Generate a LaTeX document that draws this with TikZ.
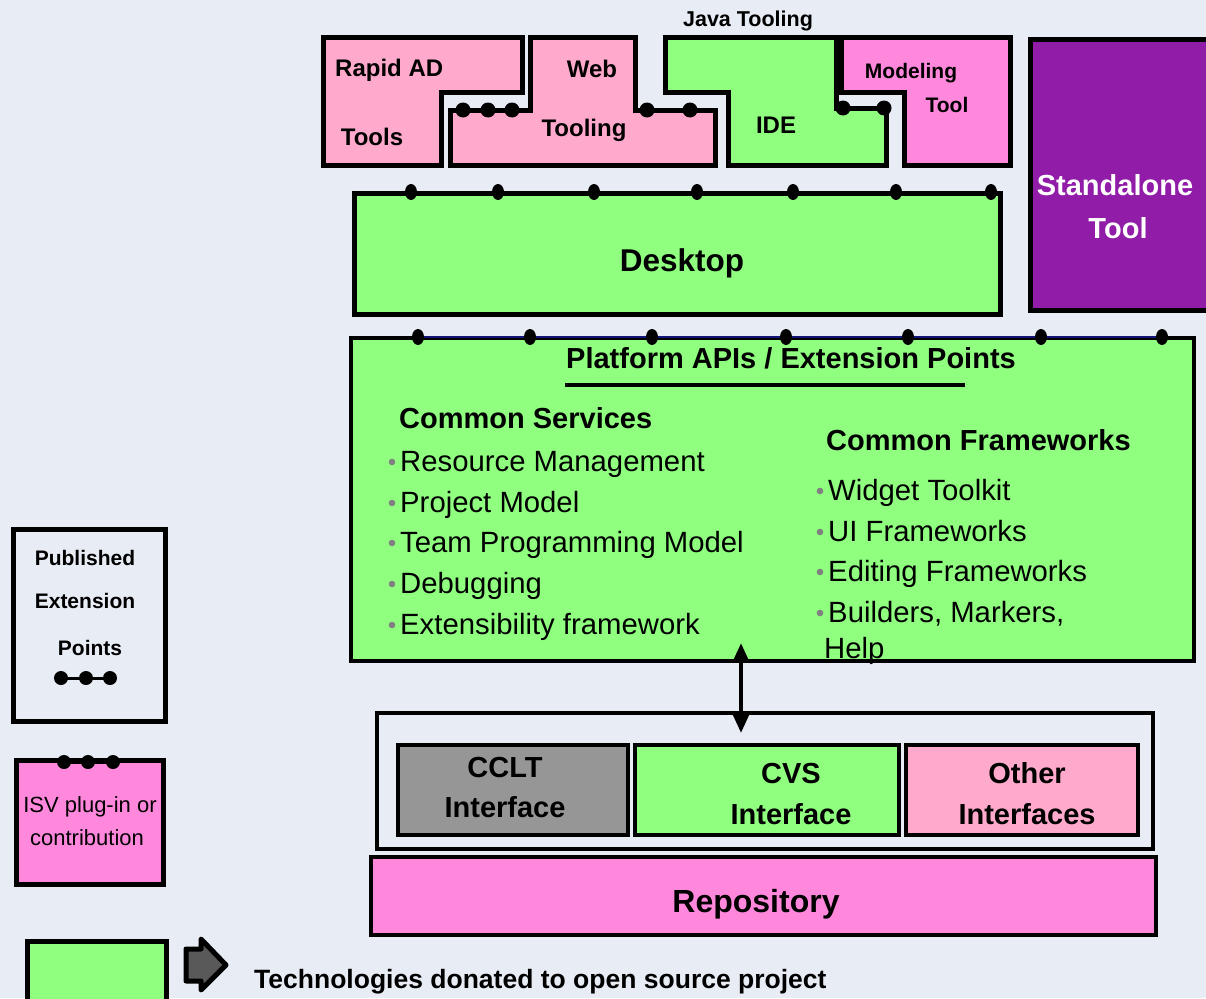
\documentclass[tikz,border=0pt]{standalone}
\usepackage{fontspec}
\setmainfont{Liberation Sans}
\usetikzlibrary{arrows.meta}
\definecolor{bg}{RGB}{232,236,244}
\definecolor{grn}{RGB}{144,255,128}
\definecolor{lpink}{RGB}{255,170,204}
\definecolor{mpink}{RGB}{255,136,221}
\definecolor{purp}{RGB}{144,28,168}
\definecolor{cgray}{RGB}{150,150,150}
\definecolor{navyline}{RGB}{20,20,120}
\definecolor{bulgray}{RGB}{128,128,128}
\begin{document}
\begin{tikzpicture}[x=1pt,y=-1pt,
  outl/.style={draw=black, line width=5pt, line join=miter},
  rbox/.style={draw=black, line width=#1, inner sep=0pt, outer sep=0pt, anchor=north west},
  rbox/.default=5pt,
  lbl/.style={inner sep=0pt, anchor=mid, yshift=-0.26*#1pt, font=\bfseries\fontsize{#1}{#1}\selectfont},
  lblw/.style={inner sep=0pt, anchor=mid west, yshift=-0.26*#1pt, font=\bfseries\fontsize{#1}{#1}\selectfont},
  item/.style={inner sep=0pt, anchor=mid west, yshift=-7.6pt, font=\fontsize{29.3}{29.3}\selectfont},
  plain/.style={inner sep=0pt, anchor=mid, yshift=-0.26*#1pt, font=\fontsize{#1}{#1}\selectfont},
  epdot/.style={fill=black},
  bul/.style={fill=bulgray}]
\useasboundingbox (0,0) rectangle (1206,998);
\fill[bg] (0,0) rectangle (1206,998);

% ---- top tools ----
\draw[outl, fill=lpink] (323,38) -- (522,38) -- (522,92) -- (441,92) -- (441,165) -- (323,165) -- cycle;
\draw[outl, fill=lpink] (530,38) -- (635,38) -- (635,110) -- (715,110) -- (715,165) -- (450,165) -- (450,110) -- (530,110) -- cycle;
\draw[outl, fill=grn] (665,38) -- (836,38) -- (836,108) -- (886,108) -- (886,165) -- (728,165) -- (728,92) -- (665,92) -- cycle;
\draw[outl, fill=mpink] (841,38) -- (1010,38) -- (1010,165) -- (904,165) -- (904,92) -- (841,92) -- cycle;
\foreach \x in {463,488,512,647,690} \fill[epdot] (\x,110) circle (7.5pt);
\foreach \x in {843,884} \fill[epdot] (\x,108) circle (7.5pt);

\node[lbl=21.5] (java) at (748,18) {Java Tooling};
\node[lblw=24] (rapid) at (335,68) {Rapid AD};
\node[lbl=24] (tools) at (372,137) {Tools};
\node[lbl=24] (web) at (592,69) {Web};
\node[lbl=24] (tooling) at (584,128) {Tooling};
\node[lbl=24] (ide) at (776,125) {IDE};
\node[lbl=21] (modeling) at (911,70) {Modeling};
\node[lbl=21] (mtool) at (947,104) {Tool};

% ---- standalone ----
\node[rbox, fill=purp, minimum width=190pt, minimum height=270pt] (stand) at (1030,40) {};
\node[lbl=29, text=white] (standt1) at (1115,185) {Standalone};
\node[lbl=29, text=white] (standt2) at (1118,228) {Tool};

% ---- desktop ----
\node[rbox, fill=grn, minimum width=646pt, minimum height=121pt] (desk) at (354,193) {};
\node[lbl=31.5] (deskt) at (682,261) {Desktop};
\foreach \x in {411,498,594,697,793,896,991} \fill[epdot] (\x,192) ellipse [x radius=6pt, y radius=8pt];

% ---- platform ----
\node[rbox=4.5pt, fill=grn, minimum width=843pt, minimum height=323pt] (plat) at (351,338) {};
\draw[navyline, line width=2pt] (418,337) -- (1162,337);
\foreach \x in {418,530,652,786,908,1041,1162} \fill[epdot] (\x,337) ellipse [x radius=6pt, y radius=8pt];
\node[lbl=29] (platt) at (791,358) {Platform APIs / Extension Points};
\draw[line width=4pt] (565,385) -- (965,385);

\node[lblw=29] (cs) at (399,418) {Common Services};
\foreach \y/\t in {461/Resource Management,502/Project Model,542/Team Programming Model,583/Debugging,624/Extensibility framework}{
  \fill[bul] (392,\y+1) circle (3.3pt);
  \node[item] at (400,\y) {\t};
}
\node[lblw=29] (cf) at (826,440) {Common Frameworks};
\foreach \y/\t in {490/Widget Toolkit,531/UI Frameworks,571/Editing Frameworks,612/{Builders, Markers,}}{
  \fill[bul] (820,\y+1) circle (3.3pt);
  \node[item] at (828,\y) {\t};
}
\node[item] (help) at (824,648) {Help};

% ---- interfaces ----
\node[rbox=4pt, minimum width=776pt, minimum height=136pt] (ifbox) at (377,713) {};
\node[rbox=4.5pt, fill=cgray, minimum width=230pt, minimum height=90pt] (cclt) at (398,745) {};
\node[rbox=4.5pt, fill=grn, minimum width=264pt, minimum height=90pt] (cvs) at (635,745) {};
\node[rbox=4.5pt, fill=lpink, minimum width=232pt, minimum height=90pt] (other) at (906,745) {};
\node[lbl=29] (cclt1) at (505,767) {CCLT};
\node[lbl=29] (cclt2) at (505,807) {Interface};
\node[lbl=29] (cvs1) at (791,773) {CVS};
\node[lbl=29] (cvs2) at (791,814) {Interface};
\node[lbl=29] (oth1) at (1027,773) {Other};
\node[lbl=29] (oth2) at (1027,814) {Interfaces};

\node[rbox=4.5pt, fill=mpink, minimum width=785pt, minimum height=78pt] (repo) at (371,857) {};
\node[lbl=32] (repot) at (756,902) {Repository};

% ---- connector ----
\coordinate (atop) at (741,643);
\coordinate (abot) at (741,733);
\draw[line width=4pt, {Triangle[length=18pt,width=15pt]}-{Triangle[length=18pt,width=15pt]}] (atop) -- (abot);

% ---- legend ----
\node[rbox, minimum width=152pt, minimum height=192pt] (leg1) at (13,529) {};
\node[lbl=21] (pub) at (85,557) {Published};
\node[lbl=21] (ext) at (85,600) {Extension};
\node[lbl=21] (pts) at (90,647) {Points};
\draw[line width=3pt] (61,678) -- (110,678);
\foreach \x in {61,86,110} \fill[epdot] (\x,678) circle (7pt);

\node[rbox, fill=mpink, minimum width=147pt, minimum height=124pt] (leg2) at (16,760) {};
\draw[line width=3pt] (64,762) -- (113,762);
\foreach \x in {64,88,113} \fill[epdot] (\x,762) circle (7pt);
\node[plain=22] (isv1) at (90,804) {ISV plug-in or};
\node[plain=22] (isv2) at (87,837) {contribution};

\node[rbox, fill=grn, minimum width=139pt, minimum height=70pt] (leg3) at (27,941) {};
\draw[line width=5pt, line join=round, fill=black!65] (186,949) -- (201,949) -- (201,939) -- (226,965) -- (201,990) -- (201,981) -- (186,981) -- cycle;
\node[lblw=26.5] (tech) at (254,979) {Technologies donated to open source project};
\end{tikzpicture}
\end{document}
